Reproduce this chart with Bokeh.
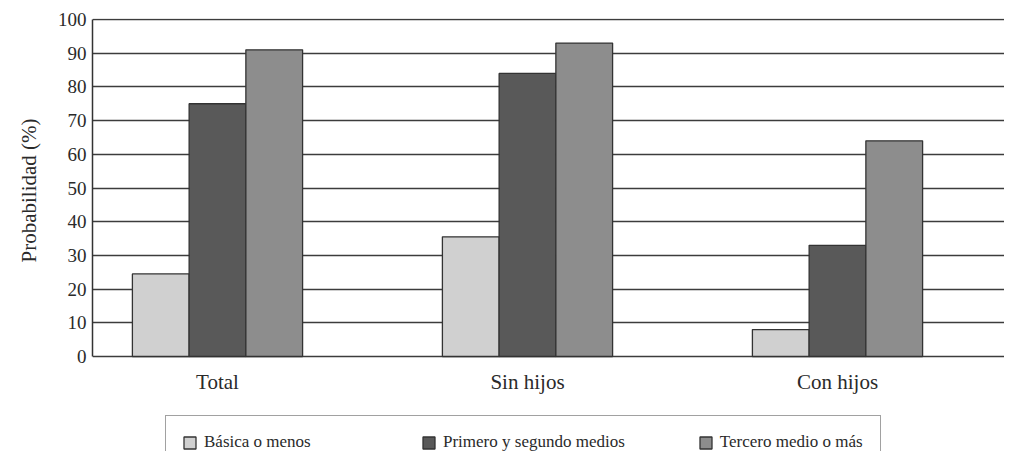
from bokeh.plotting import figure
from bokeh.models import ColumnDataSource, FixedTicker, Range1d, Legend, LegendItem, Title
from bokeh.core.properties import value
from bokeh.transform import dodge
from bokeh.embed import file_html
from bokeh.resources import INLINE

categories = ["Total", "Sin hijos", "Con hijos"]
series_names = ["Básica o menos", "Primero y segundo medios", "Tercero medio o más"]
basica = [24.5, 35.5, 8]
primero_segundo = [75, 84, 33]
tercero = [91, 93, 64]
y_ticks = [0, 10, 20, 30, 40, 50, 60, 70, 80, 90, 100]
y_title = "Probabilidad (%)"

colors = ["#d0d0d0", "#595959", "#8d8d8d"]
FONT = "Liberation Serif"
TXT = "#2a2a2a"

pos = [i + 1 for i in range(len(categories))]
source = ColumnDataSource(dict(x=pos, basica=basica, primero=primero_segundo, tercero=tercero,
                               cat=categories, base=[0] * len(categories)))

p = figure(width=1004, height=451, output_backend="svg", toolbar_location=None,
           x_axis_location=None,
           x_range=Range1d(0.5968, 3.5387), y_range=Range1d(-28.19, 100.3),
           min_border_left=92, min_border_right=0, min_border_top=18, min_border_bottom=0,
           background_fill_color="white", border_fill_color="white")
p.outline_line_color = None

bw = 0.183
fields = ["basica", "primero", "tercero"]
offsets = [-bw, 0, bw]
renderers = []
for f, off, c in zip(fields, offsets, colors):
    r = p.vbar(x=dodge("x", off, range=p.x_range), top=f, width=bw, bottom=0, source=source,
               fill_color=c, line_color="#333333", line_width=1.3)
    renderers.append(r)

# category labels under the baseline
p.text(x="x", y="base", text="cat", source=source, text_font=value(FONT),
       text_font_size="21px", text_color=TXT, text_align="center", text_baseline="top",
       y_offset=13)

# grid (the line at 0 serves as the baseline)
p.xgrid.visible = False
p.ygrid.ticker = FixedTicker(ticks=y_ticks)
p.ygrid.grid_line_color = "#3c3c3c"
p.ygrid.grid_line_width = 1.6
p.ygrid.level = "underlay"

# y axis
p.yaxis.ticker = FixedTicker(ticks=y_ticks)
p.yaxis.bounds = (0, 100)
p.yaxis.major_label_text_font = FONT
p.yaxis.major_label_text_font_size = "19px"
p.yaxis.major_label_text_color = TXT
p.yaxis.major_label_standoff = 0
p.yaxis.major_tick_line_color = None
p.yaxis.minor_tick_line_color = None
p.yaxis.axis_line_color = "#333333"
p.yaxis.axis_line_width = 1.5

# y axis title (side title, placed along the 0-100 span)
p.add_layout(Title(text=y_title, align="left", offset=189, standoff=28,
                   text_font=FONT, text_font_size="21px", text_font_style="normal",
                   text_color=TXT), "left")

legend = Legend(items=[LegendItem(label=n, renderers=[r]) for n, r in zip(series_names, renderers)],
                orientation="horizontal", location=(73, -18),
                padding=16, spacing=73, label_standoff=7, label_width=144,
                glyph_width=15, glyph_height=15,
                label_text_font=FONT, label_text_font_size="17px", label_text_color=TXT,
                border_line_color="#444444", border_line_width=1.5,
                background_fill_color="white", background_fill_alpha=1.0, margin=0)
p.add_layout(legend, "center")

open("out.html", "w").write(file_html(p, INLINE))
